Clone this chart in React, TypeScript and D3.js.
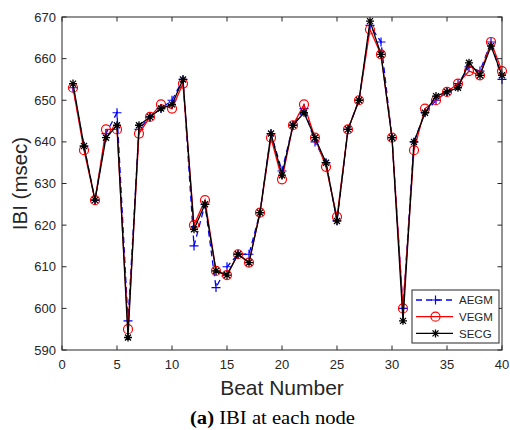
import React from "react";
import * as d3 from "d3";

const beats = d3.range(1, 41);
const aegm = [653, 639, 626, 642, 647, 597, 643, 646, 648, 650, 655, 615, 625, 605, 610, 613, 613, 623, 642, 633, 644, 648, 640, 635, 621, 643, 650, 668, 664, 641, 600, 640, 647, 650, 652, 654, 658, 657, 664, 655];
const vegm = [653, 638, 626, 643, 643, 595, 642, 646, 649, 648, 654, 620, 626, 609, 608, 613, 611, 623, 641, 631, 644, 649, 641, 634, 622, 643, 650, 667, 661, 641, 600, 638, 648, 650, 652, 654, 657, 656, 664, 657];
const secg = [654, 639, 626, 641, 644, 593, 644, 646, 648, 649, 655, 619, 625, 609, 608, 613, 611, 623, 642, 632, 644, 647, 641, 635, 621, 643, 650, 669, 661, 641, 597, 640, 647, 651, 652, 653, 659, 656, 663, 656];
const xTicks = [0, 5, 10, 15, 20, 25, 30, 35, 40];
const yTicks = [590, 600, 610, 620, 630, 640, 650, 660, 670];
const seriesNames = ["AEGM", "VEGM", "SECG"];

const W = 510, H = 430;
const L = 62, R = 502, T = 17, B = 350;
const x = d3.scaleLinear().domain([0, 40]).range([L, R]);
const y = d3.scaleLinear().domain([590, 670]).range([B, T]);
const axisColor = "#262626";
const font = "'Liberation Sans', Arial, Helvetica, sans-serif";

function Marker({ type, cx, cy }: { type: string; cx: number; cy: number }) {
  if (type === "plus") {
    const s = 4.5;
    return <path d={`M${cx - s},${cy}H${cx + s}M${cx},${cy - s}V${cy + s}`} stroke="#0000ff" strokeWidth={1.2} fill="none" />;
  }
  if (type === "circle") {
    return <circle cx={cx} cy={cy} r={4.5} stroke="#ff0000" strokeWidth={1.2} fill="none" />;
  }
  const s = 4, d = 3;
  return <path d={`M${cx - s},${cy}H${cx + s}M${cx},${cy - s}V${cy + s}M${cx - d},${cy - d}L${cx + d},${cy + d}M${cx - d},${cy + d}L${cx + d},${cy - d}`} stroke="#000" strokeWidth={1.3} fill="none" />;
}

export default function App() {
  const line = d3.line<number>().x((_, i) => x(beats[i])).y((v) => y(v));
  const series = [
    { name: seriesNames[0], data: aegm, color: "#0000ff", dash: "6,4", marker: "plus" },
    { name: seriesNames[1], data: vegm, color: "#ff0000", dash: undefined, marker: "circle" },
    { name: seriesNames[2], data: secg, color: "#000000", dash: undefined, marker: "star" },
  ];
  const legX = 412, legY = 290, legW = 87, legH = 53;
  return (
    <svg width={W} height={H} style={{ position: "absolute", left: 0, top: 0, background: "#fff" }}>
      <rect x={0} y={0} width={W} height={H} fill="#fff" />
      <rect x={L} y={T} width={R - L} height={B - T} fill="#fff" />
      {series.map((s) => (
        <g key={s.name}>
          <path d={line(s.data) || ""} fill="none" stroke={s.color} strokeWidth={1.3} strokeDasharray={s.dash} />
          {s.data.map((v, i) => (
            <Marker key={i} type={s.marker} cx={x(beats[i])} cy={y(v)} />
          ))}
        </g>
      ))}
      <rect x={L} y={T} width={R - L} height={B - T} fill="none" stroke={axisColor} strokeWidth={1} />
      {xTicks.map((t) => (
        <g key={"x" + t}>
          <line x1={x(t)} x2={x(t)} y1={B} y2={B - 4.5} stroke={axisColor} />
          <line x1={x(t)} x2={x(t)} y1={T} y2={T + 4.5} stroke={axisColor} />
          <text x={x(t)} y={B + 18.5} textAnchor="middle" fontFamily={font} fontSize={13} fill={axisColor}>{t}</text>
        </g>
      ))}
      {yTicks.map((t) => (
        <g key={"y" + t}>
          <line x1={L} x2={L + 4.5} y1={y(t)} y2={y(t)} stroke={axisColor} />
          <line x1={R} x2={R - 4.5} y1={y(t)} y2={y(t)} stroke={axisColor} />
          <text x={L - 6} y={y(t) + 4.5} textAnchor="end" fontFamily={font} fontSize={13} fill={axisColor}>{t}</text>
        </g>
      ))}
      <text x={(L + R) / 2} y={395} textAnchor="middle" fontFamily={font} fontSize={21} fill={axisColor}>Beat Number</text>
      <text transform={`translate(27,${(T + B) / 2}) rotate(-90)`} textAnchor="middle" fontFamily={font} fontSize={20.5} fill={axisColor}>IBI (msec)</text>
      <text x={190} y={424} fontFamily="'Liberation Serif', 'Times New Roman', serif" fontSize={18.5} fill="#000" textLength={165} lengthAdjust="spacingAndGlyphs">
        <tspan fontWeight="bold">(a)</tspan> IBI at each node
      </text>
      {series.map((s, i) => {
        const ly = legY + 10 + i * 16.7;
        return null;
      })}
      <rect x={legX} y={legY} width={legW} height={legH} fill="#fff" stroke={axisColor} strokeWidth={1} />
      {series.map((s, i) => {
        const ly = legY + 10 + i * 16.7;
        return (
          <g key={"leg" + s.name}>
            <line x1={legX + 4} x2={legX + 41} y1={ly} y2={ly} stroke={s.color} strokeWidth={1.3} strokeDasharray={s.dash} />
            <Marker type={s.marker} cx={legX + 23.5} cy={ly} />
            <text x={legX + 47} y={ly + 4.2} fontFamily={font} fontSize={11.5} fill={axisColor}>{s.name}</text>
          </g>
        );
      })}
    </svg>
  );
}
